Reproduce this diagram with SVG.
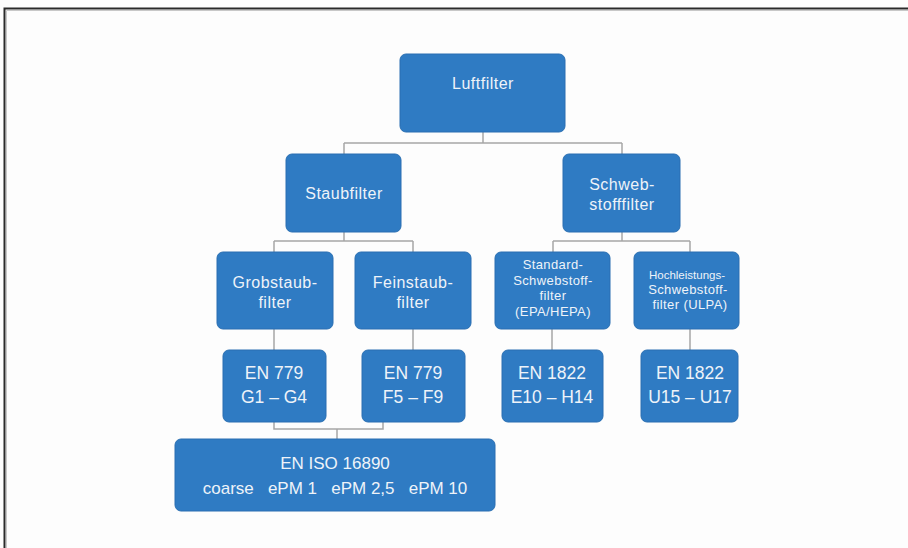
<svg xmlns="http://www.w3.org/2000/svg" width="908" height="548" viewBox="0 0 908 548">
<style>
.box{fill:#2F7BC3;stroke:#2A6FB2;stroke-width:1}
.t{fill:#EEF3F9;font-family:"Liberation Sans",Arial,sans-serif;text-anchor:middle}
.s{font-size:16px;letter-spacing:0.5px}
.m{font-size:17.5px}
.n{font-size:13px;letter-spacing:0.4px}
.c{fill:none;stroke:#A6A6A6;stroke-width:1.5}
</style>
<rect x="0" y="0" width="908" height="548" fill="#FDFDFD"/>
<path d="M4.5,548 V8.5 H908" fill="none" stroke="#2A2A2A" stroke-width="2"/>
<path d="M6.5,548 V10.5 H908" fill="none" stroke="#C8C8C8" stroke-width="1"/>
<g id="connectors">
<path class="c" d="M483,132 V143 M344,143 H622 M344,143 V154 M622,143 V154"/>
<path class="c" d="M344,232 V241 M274,241 H413 M274,241 V252 M413,241 V252"/>
<path class="c" d="M622,232 V241 M553,241 H690 M553,241 V252 M690,241 V252"/>
<path class="c" d="M274,329 V350 M413,329 V350 M552,329 V350 M690,329 V350"/>
<path class="c" d="M274,422 V429 H383 V422 M337,429 V439"/>
</g>
<g id="luftfilter"><rect class="box" x="400" y="54" width="165" height="78" rx="6"/><text class="t s" x="483" y="89">Luftfilter</text></g>
<g id="staubfilter"><rect class="box" x="286" y="154" width="115" height="78" rx="6"/><text class="t s" x="344" y="199" letter-spacing="0.8">Staubfilter</text></g>
<g id="schwebstofffilter"><rect class="box" x="563" y="154" width="117" height="78" rx="6"/><text class="t s" x="622" y="190">Schweb-</text><text class="t s" x="622" y="210">stofffilter</text></g>
<g id="grobstaubfilter"><rect class="box" x="217" y="252" width="116" height="77" rx="6"/><text class="t s" x="275" y="288">Grobstaub-</text><text class="t s" x="275" y="308">filter</text></g>
<g id="feinstaubfilter"><rect class="box" x="355" y="252" width="116" height="77" rx="6"/><text class="t s" x="413" y="288">Feinstaub-</text><text class="t s" x="413" y="308">filter</text></g>
<g id="standard"><rect class="box" x="495" y="252" width="115" height="77" rx="6"/><text class="t n" x="553" y="269">Standard-</text><text class="t n" x="553" y="285">Schwebstoff-</text><text class="t n" x="553" y="300">filter</text><text class="t n" x="553" y="316">(EPA/HEPA)</text></g>
<g id="hochleistung"><rect class="box" x="634" y="252" width="105" height="77" rx="6"/><text class="t" x="687" y="279" font-size="11.5">Hochleistungs-</text><text class="t n" x="688" y="294">Schwebstoff-</text><text class="t n" x="690" y="309">filter (ULPA)</text></g>
<g id="en779g"><rect class="box" x="223" y="350" width="103" height="72" rx="6"/><text class="t m" x="274" y="379">EN 779</text><text class="t m" x="274" y="403">G1 – G4</text></g>
<g id="en779f"><rect class="box" x="362" y="350" width="103" height="72" rx="6"/><text class="t m" x="413" y="379">EN 779</text><text class="t m" x="413" y="403">F5 – F9</text></g>
<g id="en1822e"><rect class="box" x="502" y="350" width="101" height="72" rx="6"/><text class="t m" x="552" y="379">EN 1822</text><text class="t m" x="552" y="403">E10 – H14</text></g>
<g id="en1822u"><rect class="box" x="641" y="350" width="97" height="72" rx="6"/><text class="t m" x="690" y="379">EN 1822</text><text class="t m" x="690" y="403">U15 – U17</text></g>
<g id="eniso"><rect class="box" x="175" y="439" width="320" height="72" rx="6"/><text class="t" x="335" y="469" font-size="17">EN ISO 16890</text><text class="t" x="335" y="494" font-size="17" xml:space="preserve">coarse   ePM 1   ePM 2,5   ePM 10</text></g>
</svg>
